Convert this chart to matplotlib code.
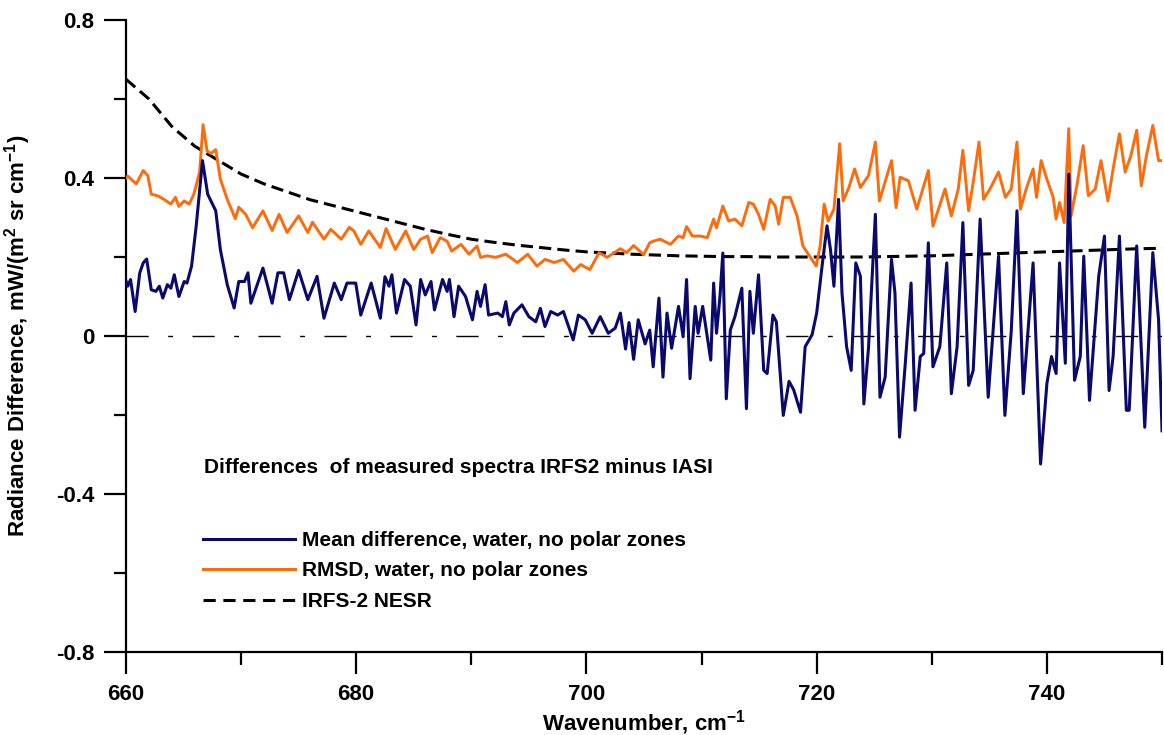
import matplotlib
matplotlib.use("Agg")
import matplotlib.pyplot as plt
from matplotlib.lines import Line2D

plt.rcParams['font.family'] = ['Liberation Sans', 'DejaVu Sans']
plt.rcParams['font.weight'] = 'bold'
plt.rcParams['mathtext.fontset'] = 'custom'
plt.rcParams['mathtext.rm'] = 'Liberation Sans:bold'
plt.rcParams['mathtext.bf'] = 'Liberation Sans:bold'
plt.rcParams['mathtext.default'] = 'bf'

# Mean difference, water, no polar zones
mean_wn = [660.0, 660.15, 660.4, 660.8, 661.2, 661.5, 661.8, 662.2, 662.6, 662.9, 663.2, 663.6, 663.9,
           664.2, 664.6, 665.06, 665.3, 665.7, 666.1, 666.65, 667.1, 667.8, 668.2, 668.8, 669.4, 669.8,
           670.3, 670.6, 670.85, 671.9, 672.7, 673.2, 673.7, 674.2, 675.0, 675.8, 676.6, 677.2, 678.1,
           678.7, 679.2, 679.96, 680.4, 681.3, 682.1, 682.5, 682.85, 683.1, 683.5, 684.2, 684.7, 685.2,
           685.6, 686.0, 686.5, 686.8, 687.5, 687.9, 688.1, 688.5, 688.9, 689.5, 690.1, 690.5, 690.8,
           691.2, 691.5, 692.3, 692.7, 693.0, 693.3, 693.7, 694.4, 695.0, 695.6, 696.0, 696.4, 696.9,
           697.5, 698.0, 698.85, 699.3, 699.9, 700.5, 701.2, 701.9, 702.5, 702.95, 703.4, 703.7, 704.1,
           704.5, 705.1, 705.5, 705.8, 706.3, 706.65, 707.0, 707.4, 708.0, 708.4, 708.7, 709.0, 709.45,
           709.7, 710.1, 710.8, 711.05, 711.3, 711.6, 711.85, 712.15, 712.5, 712.9, 713.5, 713.9, 714.2,
           714.5, 714.95, 715.4, 715.7, 716.2, 716.5, 717.1, 717.6, 718.0, 718.6, 719.0, 719.6, 720.0,
           720.45, 720.9, 721.2, 721.5, 721.9, 722.2, 722.6, 723.0, 723.4, 723.8, 724.1, 724.5, 725.1,
           725.5, 725.95, 726.5, 726.8, 727.2, 727.7, 728.2, 728.55, 729.0, 729.3, 729.7, 730.1, 730.7,
           731.3, 731.7, 732.2, 732.7, 733.2, 733.6, 734.2, 734.9, 735.8, 736.35, 736.9, 737.4, 737.95,
           738.8, 739.45, 740.0, 740.4, 740.8, 741.1, 741.6, 741.9, 742.4, 742.9, 743.2, 743.7, 744.5,
           745.0, 745.4, 745.75, 746.3, 746.9, 747.15, 747.8, 748.5, 749.2, 749.7, 750.0]
mean_diff = [0.14, 0.126, 0.143, 0.062, 0.160, 0.185, 0.195, 0.117, 0.113, 0.126, 0.096, 0.130, 0.121,
             0.155, 0.100, 0.138, 0.134, 0.177, 0.278, 0.444, 0.359, 0.317, 0.219, 0.130, 0.071, 0.138,
             0.138, 0.160, 0.083, 0.172, 0.083, 0.160, 0.160, 0.092, 0.166, 0.092, 0.151, 0.045, 0.134,
             0.092, 0.134, 0.134, 0.053, 0.134, 0.045, 0.150, 0.126, 0.155, 0.058, 0.143, 0.126, 0.028,
             0.143, 0.104, 0.138, 0.066, 0.143, 0.113, 0.143, 0.049, 0.126, 0.100, 0.041, 0.113, 0.075,
             0.130, 0.053, 0.058, 0.049, 0.087, 0.028, 0.058, 0.079, 0.049, 0.036, 0.070, 0.024, 0.062,
             0.053, 0.062, -0.010, 0.053, 0.041, 0.007, 0.049, 0.007, 0.020, 0.058, -0.033, 0.034, -0.059,
             0.041, -0.020, 0.015, -0.078, 0.096, -0.104, 0.058, -0.031, 0.075, -0.002, 0.143, -0.108, 0.075,
             0.007, 0.075, -0.061, 0.134, 0.007, 0.100, 0.210, -0.159, 0.015, 0.049, 0.121, -0.184, 0.113,
             0.007, 0.155, -0.087, -0.095, 0.053, 0.036, -0.201, -0.115, -0.136, -0.193, -0.027, 0.003, 0.058,
             0.172, 0.279, 0.219, 0.126, 0.346, 0.109, -0.027, -0.087, 0.185, 0.151, -0.172, -0.031, 0.308,
             -0.155, -0.104, 0.194, 0.109, -0.256, -0.069, 0.134, -0.188, -0.052, -0.044, 0.236, -0.078, -0.027,
             0.185, -0.146, -0.027, 0.287, -0.125, -0.087, 0.296, -0.155, 0.202, -0.201, 0.011, 0.317, -0.146,
             0.185, -0.324, -0.120, -0.052, -0.095, 0.185, -0.069, 0.410, -0.112, -0.052, 0.202, -0.163, 0.151,
             0.253, -0.138, -0.052, 0.253, -0.188, -0.188, 0.228, -0.231, 0.211, 0.041, -0.240]

# RMSD, water, no polar zones
rmsd_wn = [660.0, 660.15, 660.9, 661.5, 661.9, 662.2, 662.75, 663.3, 663.9, 664.3, 664.6, 665.06, 665.5,
           665.9, 666.4, 666.7, 667.05, 667.4, 667.8, 668.2, 668.8, 669.5, 669.8, 670.4, 671.0, 671.9,
           672.7, 673.3, 674.0, 675.0, 675.8, 676.2, 677.2, 677.8, 678.7, 679.4, 679.8, 680.4, 681.1,
           682.1, 682.6, 683.4, 684.3, 685.0, 685.6, 686.2, 686.6, 687.3, 687.9, 688.3, 689.1, 689.8,
           690.5, 690.8, 691.4, 692.1, 693.0, 694.0, 694.9, 695.7, 696.4, 697.2, 698.0, 698.9, 699.5,
           700.3, 701.1, 701.8, 702.95, 703.5, 704.1, 704.97, 705.5, 705.8, 706.4, 707.3, 708.0, 708.4,
           708.7, 709.2, 709.9, 710.5, 711.05, 711.3, 711.85, 712.35, 712.9, 713.5, 714.1, 714.5, 714.95,
           715.4, 715.96, 716.4, 716.7, 717.1, 717.7, 718.3, 718.8, 719.3, 719.96, 720.3, 720.65, 721.0,
           721.5, 722.0, 722.3, 722.8, 723.3, 723.8, 724.5, 725.1, 725.45, 726.5, 726.9, 727.25, 727.97,
           728.7, 729.7, 730.1, 731.15, 731.7, 732.3, 732.7, 733.2, 733.6, 734.1, 734.5, 735.05, 735.8,
           736.4, 736.9, 737.4, 737.7, 738.2, 738.8, 739.1, 739.5, 740.0, 740.55, 740.8, 741.1, 741.5,
           741.9, 742.1, 742.6, 743.15, 743.6, 744.2, 744.7, 745.3, 745.8, 746.3, 746.8, 747.3, 747.8,
           748.2, 748.65, 749.2, 749.7, 750.0]
rmsd = [0.400, 0.405, 0.385, 0.419, 0.406, 0.359, 0.355, 0.346, 0.334, 0.351, 0.328, 0.342, 0.334,
        0.359, 0.415, 0.535, 0.468, 0.462, 0.472, 0.397, 0.346, 0.297, 0.326, 0.308, 0.274, 0.317,
        0.267, 0.308, 0.262, 0.304, 0.262, 0.288, 0.245, 0.270, 0.245, 0.275, 0.266, 0.232, 0.266,
        0.224, 0.272, 0.219, 0.266, 0.219, 0.245, 0.253, 0.211, 0.249, 0.240, 0.215, 0.232, 0.207,
        0.228, 0.199, 0.203, 0.199, 0.207, 0.186, 0.207, 0.177, 0.194, 0.186, 0.194, 0.164, 0.181,
        0.168, 0.211, 0.199, 0.221, 0.211, 0.229, 0.206, 0.236, 0.240, 0.245, 0.232, 0.253, 0.249,
        0.277, 0.253, 0.253, 0.249, 0.296, 0.274, 0.329, 0.291, 0.296, 0.279, 0.338, 0.334, 0.308,
        0.270, 0.346, 0.329, 0.283, 0.351, 0.351, 0.304, 0.228, 0.206, 0.177, 0.228, 0.334, 0.291,
        0.321, 0.487, 0.342, 0.376, 0.423, 0.376, 0.406, 0.491, 0.342, 0.444, 0.325, 0.402, 0.393,
        0.321, 0.419, 0.278, 0.372, 0.304, 0.372, 0.470, 0.317, 0.389, 0.491, 0.346, 0.372, 0.415,
        0.351, 0.372, 0.491, 0.321, 0.372, 0.423, 0.351, 0.444, 0.397, 0.351, 0.296, 0.338, 0.287,
        0.525, 0.304, 0.380, 0.482, 0.355, 0.372, 0.444, 0.342, 0.431, 0.512, 0.415, 0.457, 0.521,
        0.380, 0.457, 0.533, 0.444, 0.444]

# IRFS-2 NESR
nesr_wn = [660, 662, 664, 666, 668, 670, 672, 674, 676, 678, 680, 682, 684, 686, 688, 690, 692, 694,
           696, 698, 700, 702, 704, 706, 708, 710, 712, 714, 716, 718, 720, 722, 724, 726, 728, 730,
           732, 734, 736, 738, 740, 742, 744, 746, 748, 750]
nesr = [0.650, 0.600, 0.530, 0.480, 0.445, 0.410, 0.385, 0.365, 0.345, 0.330, 0.315, 0.300, 0.285,
        0.270, 0.257, 0.245, 0.237, 0.230, 0.224, 0.218, 0.213, 0.210, 0.207, 0.205, 0.203, 0.202,
        0.201, 0.201, 0.200, 0.200, 0.200, 0.200, 0.200, 0.201, 0.202, 0.203, 0.205, 0.207, 0.209,
        0.211, 0.213, 0.215, 0.217, 0.219, 0.221, 0.222]

blue = '#0a0a6e'
orange = '#ff6a0a'

fig = plt.figure(figsize=(11.64, 7.35), dpi=100)
ax = fig.add_axes([0.1082, 0.1129, 0.8901, 0.8599])

ax.axhline(0, color='black', lw=1.0, linestyle=(0, (16, 14, 3.5, 14)), zorder=1)
ax.plot(nesr_wn, nesr, color='black', lw=2.2, dashes=(4, 2), zorder=2)
ax.plot(rmsd_wn, rmsd, color=orange, lw=2.1, zorder=3)
ax.plot(mean_wn, mean_diff, color=blue, lw=2.2, zorder=4)

ax.set_xlim(660, 750)
ax.set_ylim(-0.8, 0.8)
ax.set_xticks([660, 680, 700, 720, 740])
ax.set_xticks([670, 690, 710, 730, 750], minor=True)
ax.set_yticks([-0.8, -0.4, 0, 0.4, 0.8])
ax.set_yticklabels(['-0.8', '-0.4', '0', '0.4', '0.8'])
ax.set_yticks([-0.6, -0.2, 0.2, 0.6], minor=True)

for s in ['top', 'right']:
    ax.spines[s].set_visible(False)
for s in ['left', 'bottom']:
    ax.spines[s].set_linewidth(1.6)

ax.tick_params(which='major', direction='out', length=16, width=1.6, labelsize=16, pad=7)
ax.tick_params(which='minor', direction='out', length=9, width=1.6)

ax.set_xlabel('Wavenumber, cm$^{-1}$', fontsize=16, fontweight='bold', labelpad=2)
ax.set_ylabel('Radiance Difference, mW/(m$^2$ sr cm$^{-1}$)', fontsize=16, fontweight='bold')
ax.yaxis.set_label_coords((33 - 126) / 1036, 0.5)

ax.text(666.77, -0.334, 'Differences  of measured spectra IRFS2 minus IASI',
        fontsize=15, fontweight='bold', va='center', ha='left')

handles = [Line2D([], [], color=blue, lw=2.2),
           Line2D([], [], color=orange, lw=2.2),
           Line2D([], [], color='black', lw=2.2, dashes=(4, 2.5))]
labels = ['Mean difference, water, no polar zones',
          'RMSD, water, no polar zones',
          'IRFS-2 NESR']
ax_x0, ax_x1 = 126, 1162
ax_y0, ax_y1 = 20, 652
bx = (203 - ax_x0) / (ax_x1 - ax_x0)
by = (ax_y1 - 531) / (ax_y1 - ax_y0)
leg = ax.legend(handles, labels, loc='upper left', bbox_to_anchor=(bx, by), frameon=False,
                fontsize=15, handlelength=4.4, handletextpad=0.35, labelspacing=0.55,
                borderaxespad=0, borderpad=0)
for t in leg.get_texts():
    t.set_fontweight('bold')

fig.savefig('out.png', dpi=100)
